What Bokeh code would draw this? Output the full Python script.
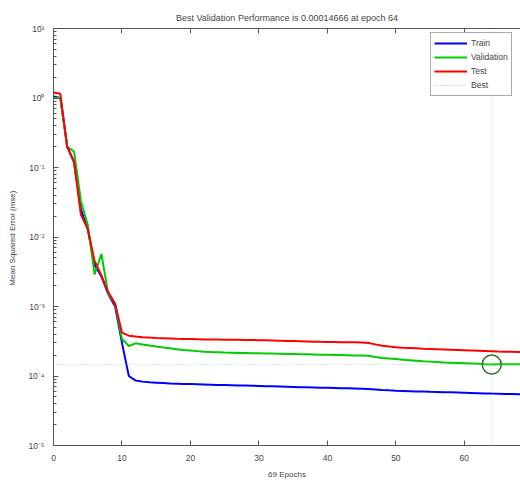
from bokeh.plotting import figure
from bokeh.models import (Range1d, LinearAxis, FixedTicker, CustomJSTickFormatter,
                          Span, Legend, LegendItem)
from bokeh.embed import file_html
from bokeh.resources import INLINE

# ---------------- data ----------------
epochs = list(range(70))

train = [1.05, 1.0, 0.2, 0.12, 0.025, 0.013, 0.004, 0.0027, 0.0015, 0.001,
         3.0e-4, 1.0e-4, 8.6e-5, 8.3e-5, 8.1e-5, 8.0e-5, 7.9e-5, 7.8e-5, 7.75e-5, 7.7e-5,
         7.65e-5, 7.6e-5, 7.55e-5, 7.5e-5, 7.45e-5, 7.4e-5, 7.35e-5, 7.3e-5, 7.27e-5, 7.23e-5,
         7.2e-5, 7.15e-5, 7.1e-5, 7.05e-5, 7.0e-5, 6.95e-5, 6.9e-5, 6.87e-5, 6.84e-5, 6.8e-5,
         6.76e-5, 6.72e-5, 6.68e-5, 6.64e-5, 6.6e-5, 6.55e-5, 6.5e-5, 6.4e-5, 6.3e-5, 6.22e-5,
         6.15e-5, 6.1e-5, 6.05e-5, 6.0e-5, 5.97e-5, 5.93e-5, 5.9e-5, 5.86e-5, 5.82e-5, 5.78e-5,
         5.74e-5, 5.7e-5, 5.66e-5, 5.62e-5, 5.58e-5, 5.55e-5, 5.52e-5, 5.5e-5, 5.47e-5, 5.45e-5]

validation = [1.0, 1.0, 0.2, 0.17, 0.033, 0.015, 0.0029, 0.0057, 0.0015, 0.0011,
              3.4e-4, 2.7e-4, 2.95e-4, 2.85e-4, 2.75e-4, 2.65e-4, 2.57e-4, 2.5e-4, 2.43e-4, 2.37e-4,
              2.32e-4, 2.28e-4, 2.24e-4, 2.21e-4, 2.19e-4, 2.17e-4, 2.16e-4, 2.15e-4, 2.14e-4, 2.13e-4,
              2.12e-4, 2.11e-4, 2.1e-4, 2.09e-4, 2.08e-4, 2.07e-4, 2.06e-4, 2.05e-4, 2.04e-4, 2.03e-4,
              2.02e-4, 2.01e-4, 2.0e-4, 1.99e-4, 1.98e-4, 1.97e-4, 1.95e-4, 1.88e-4, 1.82e-4, 1.78e-4,
              1.75e-4, 1.72e-4, 1.69e-4, 1.66e-4, 1.63e-4, 1.61e-4, 1.59e-4, 1.57e-4, 1.555e-4, 1.54e-4,
              1.525e-4, 1.51e-4, 1.495e-4, 1.48e-4, 1.4666e-4, 1.47e-4, 1.472e-4, 1.475e-4, 1.478e-4, 1.48e-4]

test = [1.2, 1.15, 0.2, 0.12, 0.021, 0.013, 0.0045, 0.0028, 0.0016, 0.0011,
        4.2e-4, 3.8e-4, 3.7e-4, 3.62e-4, 3.57e-4, 3.53e-4, 3.5e-4, 3.47e-4, 3.44e-4, 3.42e-4,
        3.4e-4, 3.38e-4, 3.36e-4, 3.35e-4, 3.34e-4, 3.33e-4, 3.32e-4, 3.31e-4, 3.3e-4, 3.29e-4,
        3.28e-4, 3.26e-4, 3.24e-4, 3.22e-4, 3.2e-4, 3.18e-4, 3.16e-4, 3.14e-4, 3.12e-4, 3.1e-4,
        3.09e-4, 3.08e-4, 3.07e-4, 3.06e-4, 3.05e-4, 3.03e-4, 2.98e-4, 2.85e-4, 2.72e-4, 2.65e-4,
        2.6e-4, 2.56e-4, 2.53e-4, 2.5e-4, 2.47e-4, 2.45e-4, 2.43e-4, 2.41e-4, 2.39e-4, 2.37e-4,
        2.35e-4, 2.33e-4, 2.31e-4, 2.29e-4, 2.27e-4, 2.25e-4, 2.24e-4, 2.23e-4, 2.22e-4, 2.21e-4]

best_epoch = 64
best_perf = 1.4666e-4

x_ticks = [0, 10, 20, 30, 40, 50, 60]
y_ticks = [1e-5, 1e-4, 1e-3, 1e-2, 1e-1, 1, 10]
y_minor = [m * t for t in y_ticks[:-1] for m in range(2, 10)]

title_text = "Best Validation Performance is 0.00014666 at epoch 64"
x_label = "69 Epochs"
y_label = "Mean Squared Error  (mse)"
series_names = ["Train", "Validation", "Test", "Best"]

# ---------------- figure ----------------
TXT = "#444444"
AX = "#555555"
FONT = "Liberation Sans"

p = figure(width=520, height=481, output_backend="svg", toolbar_location=None,
           y_axis_type="log", x_range=Range1d(0, 68.2), y_range=Range1d(1e-5, 10),
           min_border_left=53, min_border_right=0, min_border_top=28, min_border_bottom=36,
           title=title_text)
p.background_fill_color = "white"
p.border_fill_color = "white"
p.outline_line_color = None
p.grid.visible = False

p.title.align = "center"
p.title.text_font = FONT
p.title.text_font_size = "9px"
p.title.text_font_style = "normal"
p.title.text_color = TXT
p.title.standoff = 12

sup_code = """
const sup = {"0":"\u2070","1":"\u00b9","2":"\u00b2","3":"\u00b3","4":"\u2074","5":"\u2075",
             "6":"\u2076","7":"\u2077","8":"\u2078","9":"\u2079","-":"\u207b"};
const e = Math.round(Math.log10(tick));
return "10" + String(e).split("").map(c => sup[c]).join("");
"""

xa = p.xaxis[0]
xa.ticker = FixedTicker(ticks=x_ticks)
xa.axis_label = x_label
ya = p.yaxis[0]
ya.ticker = FixedTicker(ticks=y_ticks, minor_ticks=y_minor)
ya.formatter = CustomJSTickFormatter(code=sup_code)
ya.axis_label = y_label

for ax in (xa, ya):
    ax.axis_line_color = AX
    ax.major_tick_line_color = AX
    ax.minor_tick_line_color = AX
    ax.major_tick_in = 5
    ax.major_tick_out = 0
    ax.major_label_text_font = FONT
    ax.major_label_text_font_size = "8.5px"
    ax.major_label_text_color = TXT
    ax.axis_label_text_font = FONT
    ax.axis_label_text_font_size = "8px"
    ax.axis_label_text_font_style = "normal"
    ax.axis_label_text_color = TXT
xa.major_label_standoff = 9
xa.axis_label_standoff = 6
ya.major_label_standoff = 9
ya.axis_label_standoff = 8
xa.minor_tick_in = 0
xa.minor_tick_out = 0
ya.minor_tick_in = 3
ya.minor_tick_out = 0

top = LinearAxis(ticker=FixedTicker(ticks=x_ticks),
                 formatter=CustomJSTickFormatter(code="return '';"),
                 major_label_text_font_size="8px",
                 major_label_standoff=0, major_tick_in=5, major_tick_out=0,
                 minor_tick_in=0, minor_tick_out=0, axis_line_color=AX,
                 major_tick_line_color=AX)
p.add_layout(top, "above")

# ---------------- glyphs ----------------
r_train = p.line(epochs, train, line_color="#0000ff", line_width=2)
r_val = p.line(epochs, validation, line_color="#00cc00", line_width=2)
r_test = p.line(epochs, test, line_color="#ff0000", line_width=2)

best_col = "#7fc8b0"
p.add_layout(Span(location=best_perf, dimension="width", line_color=best_col,
                  line_dash="1 2", line_width=1, line_alpha=0.7))
p.add_layout(Span(location=best_epoch, dimension="height", line_color=best_col,
                  line_dash="1 2", line_width=1, line_alpha=0.7))
r_best = p.line([best_epoch], [best_perf], line_color=best_col, line_dash="1 2", line_width=1)
p.scatter([best_epoch], [best_perf], size=19, fill_color=None, line_color="#2e6b2e",
          line_width=1.5)

legend = Legend(items=[LegendItem(label=series_names[0], renderers=[r_train]),
                       LegendItem(label=series_names[1], renderers=[r_val]),
                       LegendItem(label=series_names[2], renderers=[r_test]),
                       LegendItem(label=series_names[3], renderers=[r_best])],
                location=(377, 349))
legend.label_text_font = FONT
legend.label_text_font_size = "8.5px"
legend.label_text_color = TXT
legend.glyph_width = 33
legend.glyph_height = 14
legend.label_height = 14
legend.spacing = 0
legend.padding = 3
legend.margin = 0
legend.label_standoff = 4
legend.border_line_color = AX
legend.background_fill_alpha = 1
p.add_layout(legend)

open("out.html", "w").write(file_html(p, INLINE))
